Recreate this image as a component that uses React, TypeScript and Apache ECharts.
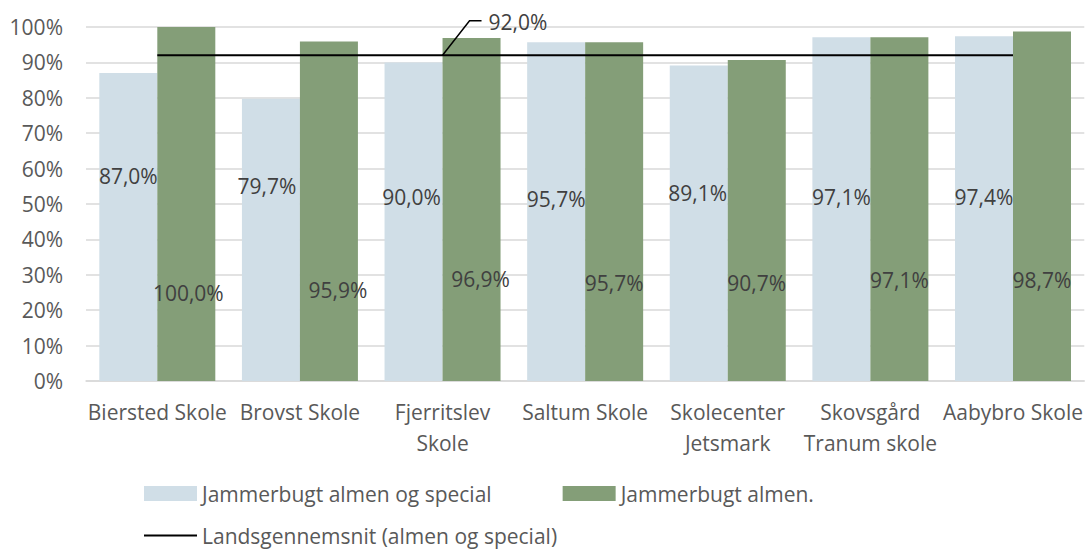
import React, { useEffect, useRef } from "react";
import * as echarts from "echarts";

const CATEGORIES = [
  "Biersted Skole",
  "Brovst Skole",
  "Fjerritslev\nSkole",
  "Saltum Skole",
  "Skolecenter\nJetsmark",
  "Skovsgård\nTranum skole",
  "Aabybro Skole",
];
const SERIES_LIGHT_NAME = "Jammerbugt almen og special";
const SERIES_GREEN_NAME = "Jammerbugt almen.";
const SERIES_LINE_NAME = "Landsgennemsnit (almen og special)";
const LIGHT_VALUES = [87.0, 79.7, 90.0, 95.7, 89.1, 97.1, 97.4];
const GREEN_VALUES = [100.0, 95.9, 96.9, 95.7, 90.7, 97.1, 98.7];
const NATIONAL_AVG = [92.0, 92.0, 92.0, 92.0, 92.0, 92.0, 92.0];
const Y_TICKS = [0, 10, 20, 30, 40, 50, 60, 70, 80, 90, 100];

// label placement (manually dragged labels in the original): level in axis units, x shift in px
const LIGHT_LABEL_LEVEL = [57.9, 55.1, 52.0, 51.4, 53.1, 52.0, 52.0];
const LIGHT_LABEL_DX = [0, -4, -2, 0, -1, 0, 0];
const GREEN_LABEL_LEVEL = [24.9, 25.7, 28.8, 27.7, 27.7, 28.5, 28.5];
const GREEN_LABEL_DX = [2, 9, 9, 0, 0, 0, 0];
const AVG_LABEL_INDEX = 2;

const FONT = "Open Sans";
const fmt = (v: number) => v.toFixed(1).replace(".", ",") + "%";

function makeLayout(values: number[], levels: number[], dxs: number[]) {
  return (params: any) => {
    const r = params.rect;
    const i = params.dataIndex;
    const top = Math.min(r.y, r.y + r.height);
    const h = Math.abs(r.height);
    const bottom = top + h;
    const perUnit = h / values[i];
    return {
      x: r.x + r.width / 2 + dxs[i],
      y: bottom - levels[i] * perUnit,
      align: "center",
      verticalAlign: "middle",
    };
  };
}

export default function App() {
  const ref = useRef<HTMLDivElement>(null);
  useEffect(() => {
    if (!ref.current) return;
    const chart = echarts.init(ref.current, undefined, { renderer: "svg" });
    const labelStyle = {
      show: true,
      fontFamily: FONT,
      fontSize: 21,
      color: "#404040",
      formatter: (p: any) => fmt(p.value),
    };
    chart.setOption({
      animation: false,
      backgroundColor: "#ffffff",
      textStyle: { fontFamily: FONT },
      grid: { left: 86, right: 1, top: 27, bottom: 170, containLabel: false },
      legend: [
        {
          data: [
            { name: SERIES_LIGHT_NAME, icon: "rect" },
            { name: SERIES_GREEN_NAME, icon: "rect" },
          ],
          left: 144,
          top: 483,
          padding: 0,
          itemWidth: 53,
          itemHeight: 15,
          itemGap: 71,
          textStyle: { fontFamily: FONT, fontSize: 21, color: "#595959" },
        },
        {
          data: [{ name: SERIES_LINE_NAME, icon: "rect" }],
          left: 144,
          top: 525,
          padding: 0,
          itemWidth: 53,
          itemHeight: 2,
          textStyle: { fontFamily: FONT, fontSize: 21, color: "#595959" },
        },
      ],
      xAxis: {
        type: "category",
        data: CATEGORIES,
        axisTick: { show: false },
        axisLine: { show: true, lineStyle: { color: "#d9d9d9", width: 1.5 } },
        axisLabel: {
          interval: 0,
          fontFamily: FONT,
          fontSize: 21,
          lineHeight: 31,
          color: "#595959",
          margin: 15,
        },
      },
      yAxis: {
        type: "value",
        min: Y_TICKS[0],
        max: Y_TICKS[Y_TICKS.length - 1],
        interval: Y_TICKS[1] - Y_TICKS[0],
        axisLine: { show: false },
        axisTick: { show: false },
        axisLabel: {
          formatter: "{value}%",
          fontFamily: FONT,
          fontSize: 21,
          color: "#595959",
          margin: 23,
        },
        splitLine: { lineStyle: { color: "#d9d9d9", width: 1.5 } },
      },
      series: [
        {
          name: SERIES_LIGHT_NAME,
          type: "bar",
          data: LIGHT_VALUES,
          barWidth: 58,
          barGap: "0%",
          itemStyle: { color: "#d0dee7" },
          label: labelStyle,
          labelLayout: makeLayout(LIGHT_VALUES, LIGHT_LABEL_LEVEL, LIGHT_LABEL_DX),
          z: 2,
        },
        {
          name: SERIES_GREEN_NAME,
          type: "bar",
          data: GREEN_VALUES,
          barWidth: 58,
          barGap: "0%",
          itemStyle: { color: "#849e78" },
          label: labelStyle,
          labelLayout: makeLayout(GREEN_VALUES, GREEN_LABEL_LEVEL, GREEN_LABEL_DX),
          z: 2,
        },
        {
          name: SERIES_LINE_NAME,
          type: "line",
          data: NATIONAL_AVG,
          symbol: "none",
          lineStyle: { color: "#000000", width: 2 },
          itemStyle: { color: "#000000" },
          z: 5,
        },
      ],
    });

    const p = chart.convertToPixel({ seriesIndex: 2 }, [
      AVG_LABEL_INDEX,
      NATIONAL_AVG[AVG_LABEL_INDEX],
    ]) as number[];
    if (p && isFinite(p[0]) && isFinite(p[1])) {
      chart.setOption({
        graphic: [
          {
            type: "polyline",
            z: 10,
            shape: {
              points: [
                [p[0], p[1]],
                [p[0] + 27, p[1] - 34.6],
                [p[0] + 39, p[1] - 34.6],
              ],
            },
            style: { stroke: "#000000", lineWidth: 1.5, fill: "none" },
          },
          {
            type: "text",
            z: 10,
            x: p[0] + 46,
            y: p[1] - 33,
            style: {
              text: fmt(NATIONAL_AVG[AVG_LABEL_INDEX]),
              fontFamily: FONT,
              fontSize: 21,
              fill: "#404040",
              verticalAlign: "middle",
              align: "left",
            },
          },
        ],
      });
    }
    return () => chart.dispose();
  }, []);
  return (
    <div
      ref={ref}
      style={{ position: "absolute", left: 0, top: 0, width: 1086, height: 551 }}
    />
  );
}
